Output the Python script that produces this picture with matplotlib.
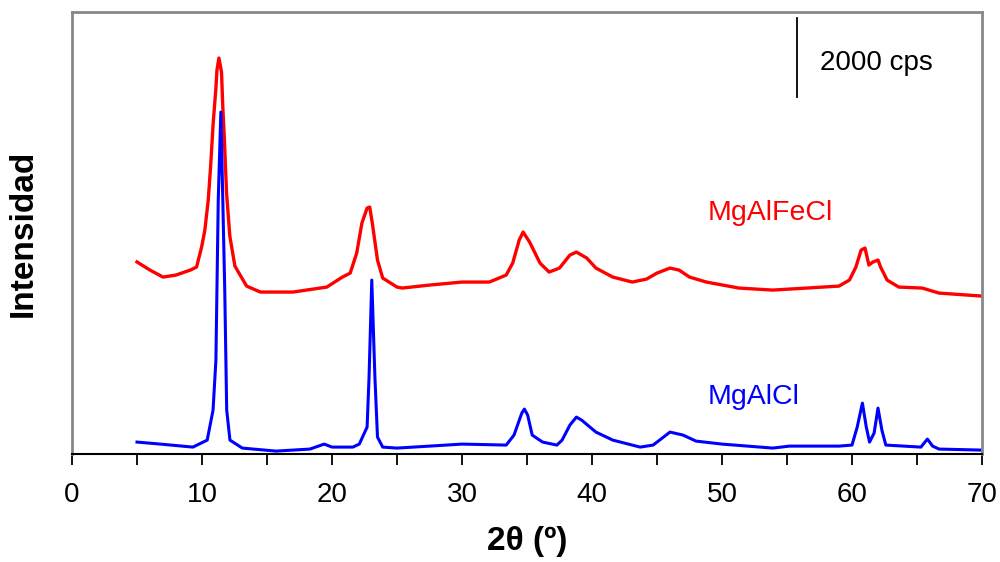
import matplotlib.pyplot as plt
import numpy as np

# 2theta (deg) and intensity (cps, red curve already shifted up)
x_fe = [5.0, 6.0, 7.0, 8.0, 9.1, 9.58, 9.97, 10.22, 10.48, 10.66, 10.86, 11.07, 11.15, 11.3, 11.5,
        11.6, 11.71, 11.89, 12.14, 12.53, 13.43, 14.5, 17.0, 19.6, 20.8, 21.4, 21.9, 22.3, 22.7,
        22.9, 23.1, 23.5, 23.9, 25.0, 25.4, 27.5, 30.0, 32.1, 33.4, 33.9, 34.4, 34.7, 35.2,
        36.0, 36.7, 37.5, 38.3, 38.8, 39.6, 40.3, 41.6, 43.1, 44.2, 45.0, 46.0, 46.7, 47.5,
        48.8, 51.3, 53.9, 56.5, 59.0, 59.8, 60.3, 60.7, 61.0, 61.3, 61.6, 62.0, 62.2, 62.7,
        63.6, 65.4, 66.7, 70.0]
y_fe = [4860, 4655, 4478, 4529, 4655, 4731, 5237, 5667, 6426, 7261, 8374, 9260, 9715, 10019, 9665,
        8779, 8045, 6603, 5515, 4756, 4250, 4099, 4099, 4225, 4478, 4579, 5085, 5844, 6224,
        6249, 5844, 4908, 4453, 4225, 4200, 4276, 4352, 4352, 4529, 4832, 5414, 5617, 5364,
        4832, 4605, 4706, 5035, 5111, 4959, 4706, 4478, 4352, 4428, 4579, 4706, 4655, 4478,
        4352, 4200, 4149, 4200, 4250, 4402, 4731, 5161, 5212, 4782, 4858, 4908, 4731, 4402,
        4225, 4200, 4073, 3997]

x_al = [5.0, 6.8, 9.3, 10.4, 10.85, 11.07, 11.25, 11.45, 11.6, 11.75, 11.9, 12.15, 13.1, 15.7,
        18.3, 19.4, 20.0, 21.6, 22.1, 22.7, 22.85, 23.06, 23.3, 23.5, 23.9, 25.0, 27.5, 30.0,
        33.4, 34.0, 34.6, 34.8, 35.05, 35.4, 36.2, 37.3, 37.7, 38.3, 38.8, 39.2, 40.3, 41.6,
        43.7, 44.7, 45.2, 46.0, 47.0, 48.0, 50.0, 53.9, 55.2, 59.0, 60.0, 60.4, 60.8, 61.1,
        61.35, 61.7, 62.0, 62.3, 62.6, 65.3, 65.8, 66.2, 66.7, 70.0]
y_al = [304, 253, 177, 354, 1113, 2378, 6426, 8653, 6426, 4149, 1113, 354, 152, 76,
        127, 253, 177, 177, 253, 683, 1948, 4402, 1948, 430, 177, 152, 202, 253,
        228, 481, 1037, 1139, 987, 481, 304, 228, 354, 734, 936, 860, 557, 354,
        177, 228, 354, 557, 481, 329, 253, 152, 202, 202, 228, 683, 1290, 683,
        304, 531, 1164, 607, 228, 177, 380, 202, 127, 101]

plt.rcParams['font.family'] = ['Liberation Sans', 'DejaVu Sans']

fig = plt.figure(figsize=(10, 5.62), dpi=100)
ax = fig.add_axes([0.072, 0.192, 0.910, 0.7866])

ax.plot(x_fe, y_fe, '-', color='#FF0000', linewidth=2.4)
ax.plot(x_al, y_al, '-', color='#0000FF', linewidth=2.2)

ax.text(48.9, 6100, 'MgAlFeCl', color='#FF0000', fontsize=20.5, va='center')
ax.text(48.9, 1440, 'MgAlCl', color='#0000FF', fontsize=20.5, va='center')

# scale bar
ax.plot([55.8, 55.8], [9030, 11030], 'k-', linewidth=1.3)
ax.text(57.5, 9890, '2000 cps', fontsize=20, va='center')

ax.set_xlim(0, 70)
ax.set_ylim(0, 11183)
ax.set_xticks(np.arange(0, 71, 10))
ax.set_xticks(np.arange(5, 70, 10), minor=True)
ax.tick_params(axis='x', which='both', direction='out', length=8, width=1.3, labelsize=20, pad=12)
ax.set_yticks([])
for s in ['left', 'top', 'right']:
    ax.spines[s].set_color('#888888')
    ax.spines[s].set_linewidth(2)
ax.spines['bottom'].set_color('black')
ax.spines['bottom'].set_linewidth(1.5)

ax.set_xlabel('2θ (º)', fontsize=24, fontweight='bold', labelpad=13)
ax.set_ylabel('Intensidad', fontsize=24, fontweight='bold', labelpad=24)

plt.savefig('out.png', dpi=100)
